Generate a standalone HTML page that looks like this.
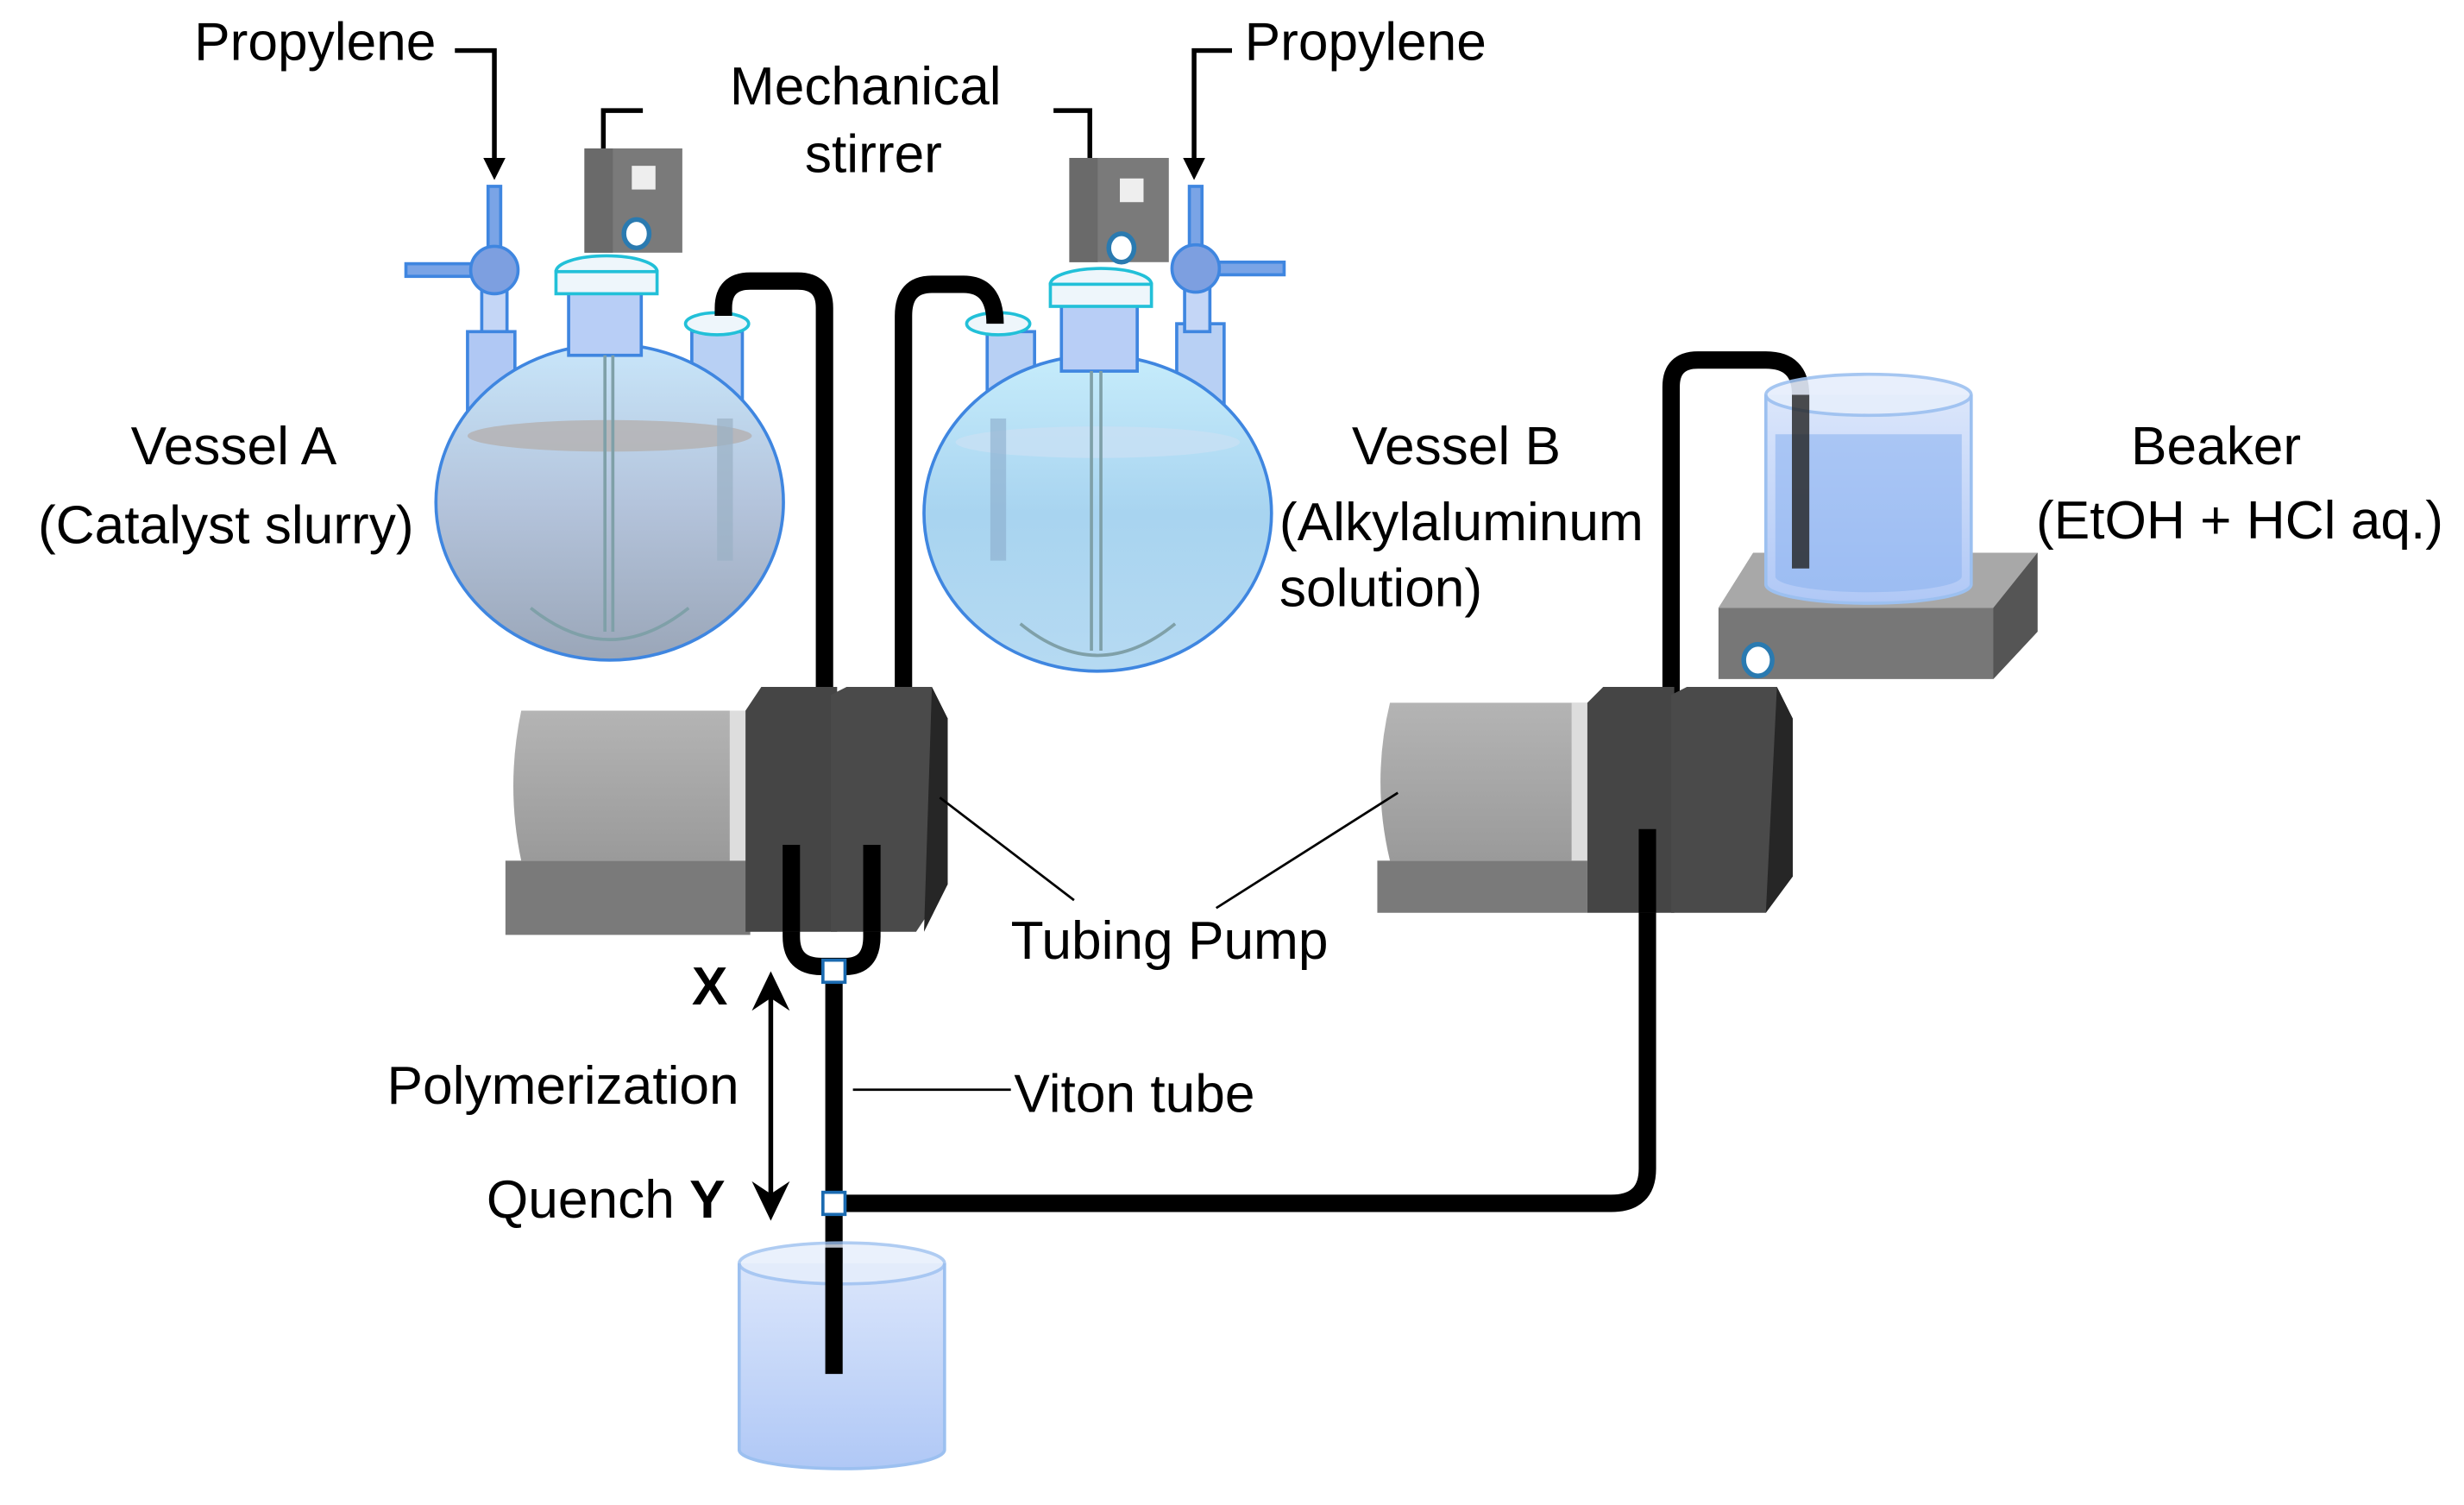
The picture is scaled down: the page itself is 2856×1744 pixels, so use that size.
<!DOCTYPE html>
<html><head><meta charset="utf-8"><style>
html,body{margin:0;padding:0;background:#fff;}
svg{display:block;}
text{font-family:"Liberation Sans",sans-serif;font-size:34px;fill:#000;}
</style></head><body>
<svg width="2856" height="1744" viewBox="0 0 1560 953" preserveAspectRatio="none" xmlns="http://www.w3.org/2000/svg">
<defs>
<linearGradient id="fa" x1="0" y1="0" x2="0" y2="1"><stop offset="0" stop-color="#c8e6fa"/><stop offset="0.5" stop-color="#b4c4dc"/><stop offset="1" stop-color="#9aa6b8"/></linearGradient>
<linearGradient id="fb" x1="0" y1="0" x2="0" y2="1"><stop offset="0" stop-color="#c6ecfb"/><stop offset="0.5" stop-color="#a8d4f0"/><stop offset="1" stop-color="#b6daf2"/></linearGradient>
<linearGradient id="bk" x1="0" y1="0" x2="0" y2="1"><stop offset="0" stop-color="#dbe6fb"/><stop offset="1" stop-color="#b0c8f6"/></linearGradient>
<linearGradient id="gb" x1="0" y1="0" x2="0" y2="1"><stop offset="0" stop-color="#b4b4b4"/><stop offset="1" stop-color="#9a9a9a"/></linearGradient>
</defs>
<g fill="none" stroke="#000" stroke-width="3">
<path d="M288,32 H313 V100"/><path d="M407,70 H382 V112"/><path d="M667,70 H690 V114"/><path d="M780,32 H756 V100"/>
</g>
<path d="M306,100 L313,114 L320,100 Z M375,110 L382,124 L389,110 Z M683,113 L690,127 L697,113 Z M749,100 L756,114 L763,100 Z"/>
<rect x="370" y="94" width="62" height="66" fill="#7a7a7a"/><rect x="370" y="94" width="18" height="66" fill="#6a6a6a"/>
<rect x="400" y="105" width="15" height="15" fill="#eee"/><ellipse cx="403" cy="148" rx="8" ry="9" fill="#fff" stroke="#2a7ab0" stroke-width="3"/>
<rect x="677" y="100" width="63" height="66" fill="#7a7a7a"/><rect x="677" y="100" width="18" height="66" fill="#6a6a6a"/>
<rect x="709" y="113" width="15" height="15" fill="#eee"/><ellipse cx="710" cy="157" rx="8" ry="9" fill="#fff" stroke="#2a7ab0" stroke-width="3"/>
<g stroke="#3f86e0" stroke-width="2">
<rect x="309" y="118" width="8" height="60" fill="#7aa4e6"/><rect x="257" y="167" width="60" height="8" fill="#7aa4e6"/>
<rect x="305" y="180" width="16" height="35" fill="#c4d6f6"/>
<rect x="296" y="210" width="30" height="55" fill="#b0c8f4"/>
<circle cx="313" cy="171" r="15" fill="#7d9fe0"/>
<rect x="438" y="210" width="32" height="55" fill="#b8d0f4"/>
<ellipse cx="386" cy="318" rx="110" ry="100" fill="url(#fa)"/>
<rect x="360" y="183" width="46" height="42" fill="#b8cef6"/>
<ellipse cx="384" cy="172" rx="32" ry="10" fill="#eef6fb" stroke="#22c0d8"/><rect x="352" y="172" width="64" height="14" fill="#eef6fb" stroke="#22c0d8"/>
<ellipse cx="454" cy="205" rx="20" ry="7" fill="#eef6fb" stroke="#22c0d8"/>
<rect x="625" y="210" width="30" height="55" fill="#b8d0f4"/>
<rect x="745" y="205" width="30" height="55" fill="#b8d0f4"/>
<rect x="753" y="118" width="8" height="60" fill="#7aa4e6"/><rect x="757" y="166" width="56" height="8" fill="#7aa4e6"/>
<rect x="750" y="180" width="16" height="30" fill="#c4d6f6"/>
<circle cx="757" cy="170" r="15" fill="#7d9fe0"/>
<ellipse cx="695" cy="325" rx="110" ry="100" fill="url(#fb)"/>
<rect x="672" y="190" width="48" height="45" fill="#b8cef6"/>
<ellipse cx="697" cy="180" rx="32" ry="10" fill="#eef6fb" stroke="#22c0d8"/><rect x="665" y="180" width="64" height="14" fill="#eef6fb" stroke="#22c0d8"/>
<ellipse cx="632" cy="205" rx="20" ry="7" fill="#eef6fb" stroke="#22c0d8"/>
</g>
<ellipse cx="386" cy="276" rx="90" ry="10" fill="#b4b0b0" opacity="0.8"/>
<ellipse cx="695" cy="280" rx="90" ry="10" fill="#c8e0f4" opacity="0.8"/>
<rect x="454" y="265" width="10" height="90" fill="#9ab0c4" opacity="0.7"/>
<rect x="627" y="265" width="10" height="90" fill="#8aaccc" opacity="0.6"/>
<g stroke="#7fa0a8" stroke-width="2" fill="none"><path d="M383,225 V400 M388,225 V400 M691,235 V412 M697,235 V412"/>
<path d="M336,385 Q386,425 436,385"/><path d="M646,395 Q695,435 744,395"/></g>
<g fill="none" stroke="#000" stroke-width="11">
<path d="M458,200 V195 Q458,178 475,178 H505 Q522,178 522,195 V440"/>
<path d="M572,440 V200 Q572,180 590,180 H610 Q630,180 630,205"/>
<path d="M1058,440 V245 Q1058,228 1075,228 H1118 Q1140,228 1140,250 V360"/>
<path d="M501,535 V593 Q501,612 520,612 H535 Q552,612 552,593 V535"/>
<path d="M528,615 V870"/>
<path d="M1043,525 V740 Q1043,762 1020,762 H528"/>
</g>
<rect x="521" y="608" width="14" height="14" fill="#fff" stroke="#1a6ab0" stroke-width="2"/>
<rect x="521" y="755" width="14" height="14" fill="#fff" stroke="#1a6ab0" stroke-width="2"/>
<rect x="320" y="545" width="155" height="47" fill="#7a7a7a"/>
<path d="M330,450 H475 V545 H330 Q320,498 330,450 Z" fill="url(#gb)"/>
<rect x="462" y="450" width="12" height="95" fill="#ddd"/>
<path d="M472,450 L482,435 H530 V590 H472 Z" fill="#454545"/>
<path d="M526,440 L536,435 H590 L600,455 V560 L580,590 H526 Z" fill="#4a4a4a"/>
<path d="M590,435 L600,455 V560 L585,590 Z" fill="#262626"/>
<path d="M501,535 V590" stroke="#000" stroke-width="11"/><path d="M552,535 V590" stroke="#000" stroke-width="11"/>
<rect x="872" y="545" width="133" height="33" fill="#7a7a7a"/>
<path d="M880,445 H1005 V545 H880 Q868,495 880,445 Z" fill="url(#gb)"/>
<rect x="995" y="445" width="10" height="100" fill="#ddd"/>
<path d="M1005,445 L1015,435 H1060 V578 H1005 Z" fill="#454545"/>
<path d="M1058,440 L1068,435 H1125 L1135,455 V555 L1118,578 H1058 Z" fill="#4a4a4a"/>
<path d="M1125,435 L1135,455 V555 L1118,578 Z" fill="#262626"/>
<path d="M1043,525 V578" stroke="#000" stroke-width="11"/>
<path d="M1088,385 L1110,350 H1290 V400 L1262,430 H1088 Z" fill="#777"/>
<path d="M1088,385 L1110,350 H1290 L1262,385 Z" fill="#a8a8a8"/>
<path d="M1262,385 L1290,350 V400 L1262,430 Z" fill="#555"/>
<ellipse cx="1113" cy="418" rx="9" ry="10" fill="#fff" stroke="#2a7ab0" stroke-width="3"/>
<path d="M1118,250 V370 A65,12 0 0 0 1248,370 V250" fill="url(#bk)" stroke="#9cc0f0" stroke-width="2"/>
<path d="M1124,275 V365 A59,10 0 0 0 1242,365 V275 Z" fill="#8eb4f0" opacity="0.6"/>
<ellipse cx="1183" cy="250" rx="65" ry="13" fill="#e6eefc" stroke="#9cc0f0" stroke-width="2" opacity="0.9"/>
<path d="M1140,250 V360" stroke="#222" stroke-width="11" opacity="0.8"/>
<path d="M468,800 V918 A65,12 0 0 0 598,918 V800" fill="url(#bk)" stroke="#9cc0f0" stroke-width="2"/>
<ellipse cx="533" cy="800" rx="65" ry="13" fill="#e6eefc" stroke="#9cc0f0" stroke-width="2" opacity="0.8"/>
<path d="M528,790 V870" stroke="#000" stroke-width="11"/>
<g stroke="#000" stroke-width="1.5"><path d="M595,505 L680,570"/><path d="M885,502 L770,575"/><path d="M540,690 H640"/></g>
<path d="M488,628 V760" stroke="#000" stroke-width="3"/>
<path d="M476,640 L488,615 L500,640 L488,632 Z M476,748 L488,773 L500,748 L488,756 Z"/>
<text x="123" y="38">Propylene</text>
<text x="788" y="38">Propylene</text>
<text x="548" y="66" text-anchor="middle">Mechanical</text>
<text x="553" y="109" text-anchor="middle">stirrer</text>
<text x="148" y="294" text-anchor="middle">Vessel A</text>
<text x="143" y="344" text-anchor="middle">(Catalyst slurry)</text>
<text x="922" y="294" text-anchor="middle">Vessel B</text>
<text x="810" y="342">(Alkylaluminum</text>
<text x="810" y="384">solution)</text>
<text x="1403" y="294" text-anchor="middle">Beaker</text>
<text x="1418" y="341" text-anchor="middle">(EtOH + HCl aq.)</text>
<text x="640" y="607">Tubing Pump</text>
<text x="438" y="636" font-weight="bold">X</text>
<text x="245" y="699">Polymerization</text>
<text x="642" y="704">Viton tube</text>
<text x="308" y="771">Quench <tspan font-weight="bold">Y</tspan></text>
</svg>
</body></html>
